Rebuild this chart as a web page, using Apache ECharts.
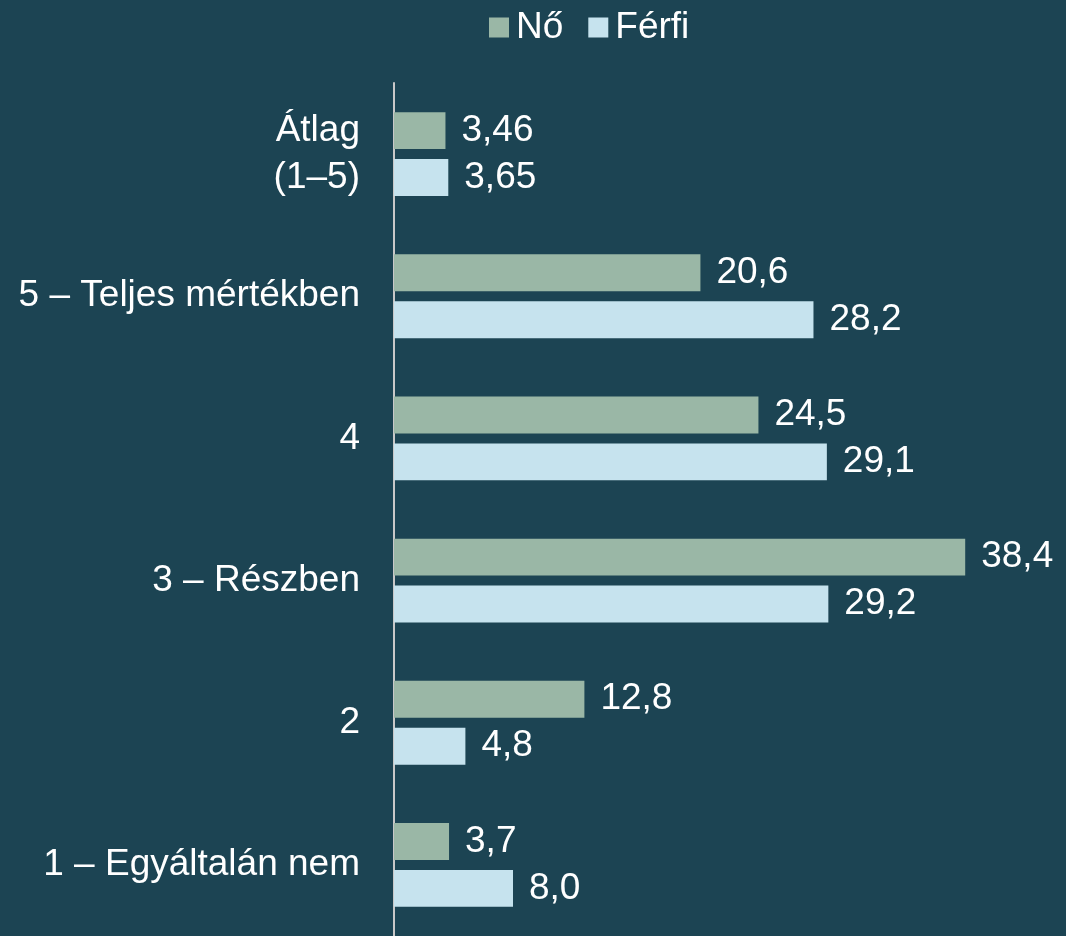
<!DOCTYPE html>
<html>
<head>
<meta charset="utf-8">
<script src="https://cdn.jsdelivr.net/npm/echarts@6/dist/echarts.min.js"></script>
<style>
  html, body { margin: 0; padding: 0; background: #1c4453; }
  #chart { width: 1066px; height: 936px; }
</style>
</head>
<body>
<div id="chart"></div>
<script>
// categories listed bottom to top (category axis draws first item at bottom)
const categories = ['1 – Egyáltalán nem', '2', '3 – Részben', '4', '5 – Teljes mértékben', 'Átlag\n(1–5)']
const noValues = [3.7, 12.8, 38.4, 24.5, 20.6, 3.46]
const ferfiValues = [8.0, 4.8, 29.2, 29.1, 28.2, 3.65]
const avgDigits = 2

const fmt = (p) => {
  const d = p.dataIndex === categories.length - 1 ? avgDigits : 1
  return p.value.toFixed(d).replace('.', ',')
}

const chart = echarts.init(document.getElementById('chart'))

const labelStyle = {
  show: true,
  position: 'right',
  distance: 16,
  color: '#ffffff',
  fontSize: 37,
  fontFamily: 'Liberation Sans, Arial, sans-serif',
  formatter: fmt,
}

chart.setOption({
  backgroundColor: '#1c4453',
  animation: false,
  textStyle: { fontFamily: 'Liberation Sans, Arial, sans-serif' },
  legend: {
    top: 4,
    left: 484,
    itemWidth: 20,
    itemHeight: 20,
    itemGap: 25,
    icon: 'rect',
    textStyle: { color: '#ffffff', fontSize: 37, padding: [0, 0, 0, 2] },
    data: ['Nő', 'Férfi'],
  },
  grid: {
    left: 394,
    right: 77,
    top: 83,
    bottom: -5,
    containLabel: false,
  },
  xAxis: {
    type: 'value',
    min: 0,
    max: 40,
    show: false,
  },
  yAxis: {
    type: 'category',
    data: categories,
    axisLine: { show: true, lineStyle: { color: '#c8c8c8', width: 2 } },
    axisTick: { show: false },
    axisLabel: {
      color: '#ffffff',
      fontSize: 37,
      margin: 34,
      lineHeight: 47,
      align: 'right',
    },
  },
  series: [
    {
      name: 'Nő',
      type: 'bar',
      data: noValues,
      itemStyle: { color: '#9ab7a6' },
      barGap: '27%',
      barCategoryGap: '41%',
      label: labelStyle,
    },
    {
      name: 'Férfi',
      type: 'bar',
      data: ferfiValues,
      itemStyle: { color: '#c6e3ee' },
      label: labelStyle,
    },
  ],
})
</script>
</body>
</html>
